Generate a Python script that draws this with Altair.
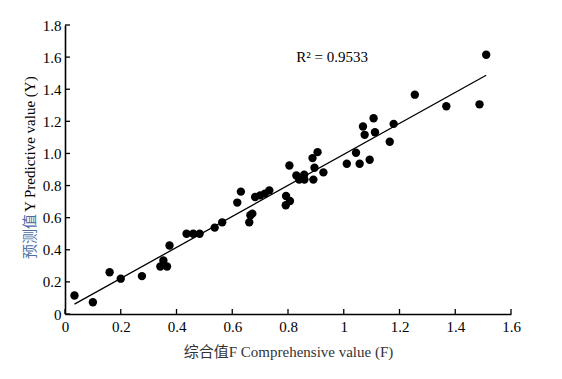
import altair as alt
import pandas as pd

# Data
comp_x = [0.034, 0.10, 0.16, 0.20, 0.276, 0.342, 0.353, 0.366, 0.375, 0.436, 0.46, 0.483,
          0.537, 0.564, 0.618, 0.631, 0.661, 0.665, 0.672, 0.682, 0.70, 0.717, 0.733,
          0.793, 0.807, 0.792, 0.805, 0.83, 0.84, 0.858, 0.859, 0.891, 0.895, 0.888, 0.906,
          0.927, 1.011, 1.044, 1.057, 1.093, 1.069, 1.075, 1.107, 1.112, 1.165, 1.179,
          1.255, 1.368, 1.487, 1.511]
pred_y = [0.115, 0.073, 0.26, 0.22, 0.236, 0.296, 0.333, 0.296, 0.427, 0.50, 0.50, 0.50,
          0.538, 0.571, 0.694, 0.762, 0.571, 0.615, 0.625, 0.729, 0.739, 0.75, 0.77,
          0.735, 0.704, 0.677, 0.925, 0.863, 0.837, 0.868, 0.837, 0.837, 0.911, 0.971, 1.008,
          0.882, 0.936, 1.004, 0.936, 0.961, 1.168, 1.116, 1.219, 1.132, 1.073, 1.184,
          1.366, 1.294, 1.306, 1.615]
x_ticks = [0, 0.2, 0.4, 0.6, 0.8, 1.0, 1.2, 1.4, 1.6]
y_ticks = [0, 0.2, 0.4, 0.6, 0.8, 1.0, 1.2, 1.4, 1.6, 1.8]
r2_label = ["R² = 0.9533"]
r2_pos_x = [0.83]
r2_pos_y = [1.6]

W, H = 446, 289
SERIF = "Liberation Serif, 'Noto Sans CJK SC'"

df = pd.DataFrame({"x": comp_x, "y": pred_y})
xt = pd.DataFrame({"t": x_ticks})
yt = pd.DataFrame({"t": y_ticks})
r2 = pd.DataFrame({"x": r2_pos_x, "y": r2_pos_y, "label": r2_label})

xs = alt.Scale(domain=[0, 1.6], nice=False, zero=False)
ys = alt.Scale(domain=[0, 1.8], nice=False, zero=False)

x_axis = alt.Axis(values=x_ticks, ticks=False, grid=False, domainColor="black", domainWidth=1.6,
                  labelFont=SERIF, labelFontSize=15, labelColor="black", labelPadding=5,
                  labelOverlap=False, labelFlush=False,
                  labelExpr="format(datum.value, '~g')",
                  title="综合值F Comprehensive value (F)", titleFont=SERIF, titleFontSize=15,
                  titleFontWeight="normal", titleColor="#333333", titlePadding=10)
y_axis = alt.Axis(values=y_ticks, ticks=False, grid=False, domainColor="black", domainWidth=1.6,
                  labelFont=SERIF, labelFontSize=15, labelColor="black", labelPadding=4,
                  labelOverlap=False, labelFlush=False,
                  labelExpr="datum.value == 0 ? '0' : format(datum.value, '.1f')", title=None)

points = alt.Chart(df).mark_circle(size=70, color="black", opacity=1).encode(
    x=alt.X("x:Q", scale=xs, axis=x_axis),
    y=alt.Y("y:Q", scale=ys, axis=y_axis),
)

fit = alt.Chart(df).transform_regression("x", "y", extent=[0.034, 1.511]).mark_line(
    color="black", strokeWidth=1.3
).encode(x=alt.X("x:Q", scale=xs, axis=x_axis), y=alt.Y("y:Q", scale=ys, axis=y_axis))

xtick = alt.Chart(xt).mark_rule(color="black", strokeWidth=1.3).encode(
    x=alt.X("t:Q", scale=xs, axis=x_axis), y=alt.value(H), y2=alt.value(H - 5))
ytick = alt.Chart(yt).mark_rule(color="black", strokeWidth=1.3).encode(
    y=alt.Y("t:Q", scale=ys, axis=y_axis), x=alt.value(0), x2=alt.value(5))

r2text = alt.Chart(r2).mark_text(align="left", baseline="middle", font=SERIF, fontSize=15,
                                 color="black").encode(
    x=alt.X("x:Q", scale=xs, axis=x_axis), y=alt.Y("y:Q", scale=ys, axis=y_axis),
    text="label:N")

ytitle_cn = alt.Chart(pd.DataFrame({"s": ["预测值"]})).mark_text(
    angle=270, align="left", baseline="middle", font=SERIF, fontSize=15, color="#4a6fa5"
).encode(x=alt.value(-35), y=alt.value(234), text="s:N")
ytitle_en = alt.Chart(pd.DataFrame({"s": ["Y Predictive value (Y)"]})).mark_text(
    angle=270, align="left", baseline="middle", font=SERIF, fontSize=15, color="black"
).encode(x=alt.value(-35), y=alt.value(187), text="s:N")

chart = alt.layer(points, fit, xtick, ytick, r2text, ytitle_cn, ytitle_en).properties(
    width=W, height=H,
    autosize=alt.AutoSizeParams(type="none"),
    padding={"left": 57, "top": 17, "right": 43, "bottom": 57},
    background="white",
).configure_view(stroke=None)

chart.save("out.html", embed_options={"renderer": "svg", "actions": False})
